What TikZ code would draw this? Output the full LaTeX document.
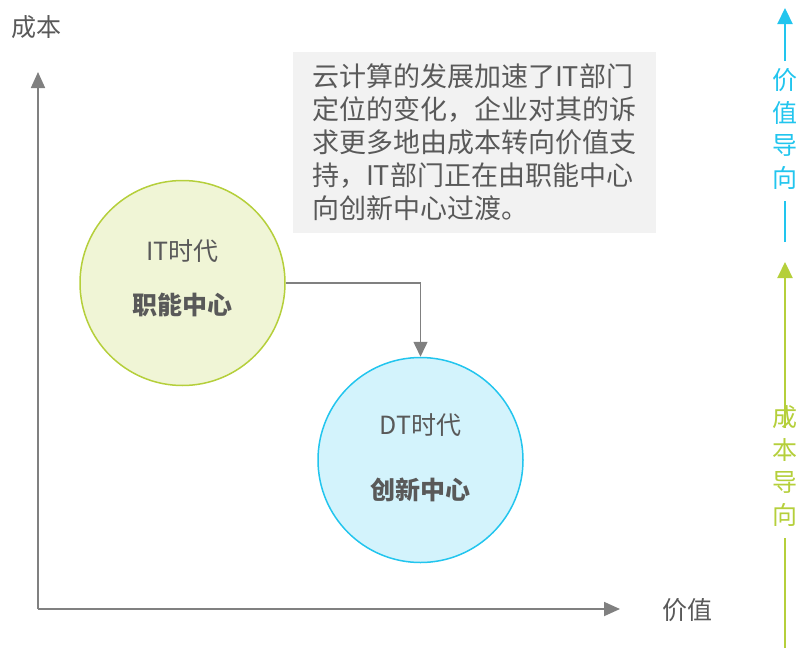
\documentclass[tikz,border=0pt]{standalone}
\usepackage{fontspec}
\newfontfamily\cjk{Noto Sans CJK SC}
\usetikzlibrary{arrows.meta}
\definecolor{axisgray}{HTML}{808080}
\definecolor{txtgray}{HTML}{595959}
\definecolor{boxgray}{HTML}{F2F2F2}
\definecolor{itgreen}{HTML}{B5CF3B}
\definecolor{itfill}{HTML}{F0F5D6}
\definecolor{dtblue}{HTML}{22C5EE}
\definecolor{dtfill}{HTML}{D3F3FC}
\tikzset{
  axis/.style = {draw = axisgray, line width = 1.8pt, -{Triangle[length=16pt, width=14pt]}},
  era/.style = {circle, minimum size = 205pt, line width = 1.5pt, inner sep = 0pt,
    align = center, text = txtgray, font = \cjk\fontsize{25}{#1}\selectfont},
  sidetxt/.style = {align = center, font = \cjk\fontsize{25}{32.6}\selectfont},
  sidearrow/.style = {line width = 2.2pt, -{Triangle[length=16pt, width=15pt]}}
}

\begin{document}
\begin{tikzpicture}[x = 1pt, y = -1pt]
\useasboundingbox (0,0) rectangle (803,648);

% axes
\coordinate (o) at (38,609);
\coordinate (ytop) at (38,72);
\coordinate (xend) at (620,609);
\draw[axis] (o) -- (ytop);
\draw[axis] (o) -- (xend);
\node[text = txtgray, font = \cjk\fontsize{25}{30}\selectfont] (ylab) at (37,27) {成本};
\node[text = txtgray, font = \cjk\fontsize{25}{30}\selectfont] (xlab) at (687,610) {价值};

% note
\node[fill = boxgray, minimum width = 363pt, minimum height = 181pt, text width = 325pt,
  align = left, text = txtgray, font = \cjk\fontsize{27}{33}\selectfont] (note) at (474.5,142.5)
  {云计算的发展加速了IT部门\\定位的变化，企业对其的诉\\求更多地由成本转向价值支\\持，IT部门正在由职能中心\\向创新中心过渡。};

% eras
\node[era = 54, draw = itgreen, fill = itfill, text depth = 11pt] (it) at (182.5,283) {IT时代\\\textbf{职能中心}};
\node[era = 65, draw = dtblue, fill = dtfill, text depth = 7pt] (dt) at (420.5,460) {DT时代\\\textbf{创新中心}};
\draw[draw = axisgray, line width = 1.5pt, -{Triangle[length=15pt, width=14pt]}] (it.east) -| (dt.north);

% side arrows
\node[sidetxt, text = dtblue] (val) at (785,129) {价\\值\\导\\向};
\coordinate (vtop) at (785,8);
\coordinate (vlo) at (785,242);
\draw[sidearrow, dtblue] (val.north) ++(0,-4) -- (vtop);
\draw[dtblue, line width = 2.2pt] (vlo) -- ([yshift=-8pt]val.south);

\node[sidetxt, text = itgreen] (cost) at (785,466) {成\\本\\导\\向};
\coordinate (ctop) at (785,262);
\coordinate (clo) at (785,648);
\draw[sidearrow, itgreen] ([yshift=-26pt]cost.north) -- (ctop);
\draw[itgreen, line width = 2.2pt] (clo) -- ([yshift=-8pt]cost.south);
\end{tikzpicture}
\end{document}
